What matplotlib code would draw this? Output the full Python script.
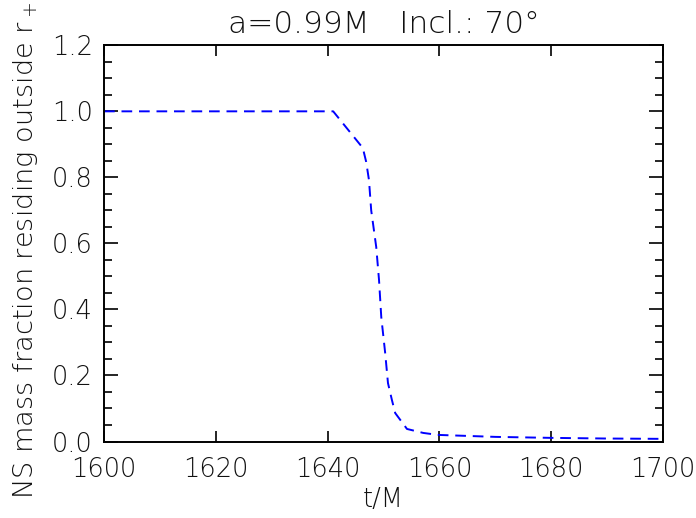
import matplotlib
matplotlib.use("Agg")
import matplotlib.pyplot as plt
from matplotlib.ticker import MultipleLocator, FormatStrFormatter

# NS mass fraction outside r+ vs time
t_M = [1600, 1641, 1646.3, 1646.9, 1647.4, 1647.8, 1648.7, 1649.2, 1649.6,
       1650.3, 1650.8, 1651.5, 1652.1, 1654.2, 1657.1, 1659.7, 1670, 1680,
       1690, 1700]
frac = [1.0, 1.0, 0.889, 0.847, 0.792, 0.70, 0.589, 0.489, 0.377,
        0.268, 0.177, 0.126, 0.086, 0.038, 0.026, 0.020, 0.014, 0.011,
        0.009, 0.008]

title = "a=0.99M   Incl.: 70°"
xlabel = "t/M"
ylabel = r"NS mass fraction residing outside r$_+$"

plt.rcParams['font.family'] = ['DejaVu Sans']
plt.rcParams['font.weight'] = 'light'
plt.rcParams['axes.titleweight'] = 'light'
plt.rcParams['axes.labelweight'] = 'light'
plt.rcParams['mathtext.default'] = 'regular'
txt = '#111111'

fig = plt.figure(figsize=(6.96, 5.18), dpi=100)
ax = fig.add_axes([104/696, 1 - 441.5/518, (663 - 104)/696, (441.5 - 45.3)/518])

ax.plot(t_M, frac, color='#0000ff', lw=1.4, dashes=(5.5, 3.5))

ax.set_xlim(1600, 1700)
ax.set_ylim(0, 1.2)
ax.xaxis.set_major_locator(MultipleLocator(20))
ax.yaxis.set_major_locator(MultipleLocator(0.2))
ax.yaxis.set_minor_locator(MultipleLocator(0.05))
ax.yaxis.set_major_formatter(FormatStrFormatter('%.1f'))

for s in ax.spines.values():
    s.set_linewidth(1.4)
    s.set_color('black')

ax.tick_params(axis='both', which='both', direction='in', top=True, right=True,
               colors='black', labelcolor=txt, labelsize=18.5)
ax.tick_params(axis='x', which='major', length=8, width=1.2, pad=11)
ax.tick_params(axis='y', which='major', length=10, width=1.2, pad=8)
ax.tick_params(axis='y', which='minor', length=6, width=1.2)

ax.set_title(title, fontsize=22.5, color=txt, pad=9)
ax.set_xlabel(xlabel, fontsize=18.5, color=txt, labelpad=4)
ax.set_ylabel(ylabel, fontsize=19.6, color=txt)
ax.yaxis.set_label_coords(-0.115, 0.481)

fig.savefig("out.png", dpi=100)
